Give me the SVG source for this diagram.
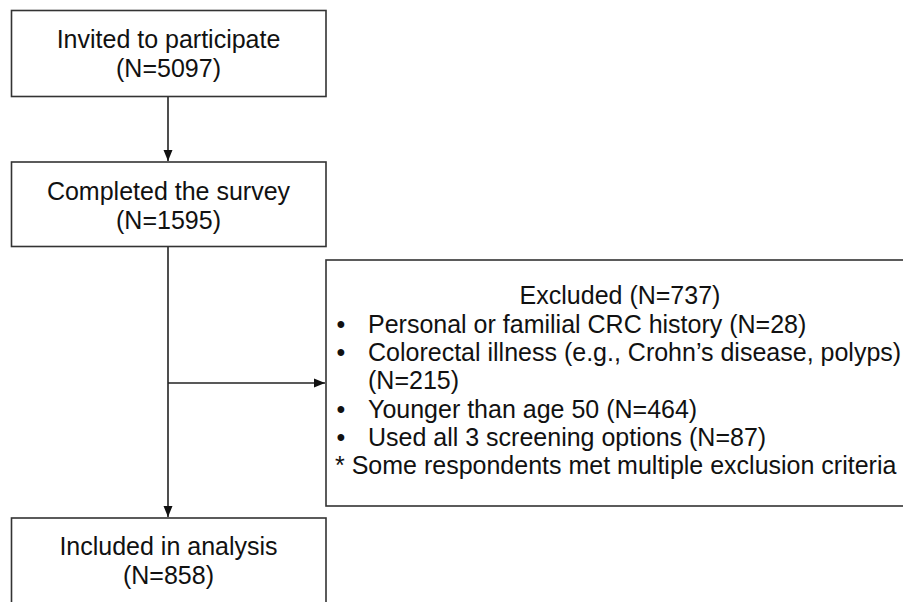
<svg xmlns="http://www.w3.org/2000/svg" width="903" height="602" viewBox="0 0 903 602">
<defs>
<style>
.box{fill:#fff;stroke:#333;stroke-width:1.6}
.t{font-family:"Liberation Sans",Arial,sans-serif;font-size:25px;fill:#111}
.c{text-anchor:middle}
.ln{stroke:#222;stroke-width:1.6;fill:none}
</style>
<marker id="ah" markerWidth="12" markerHeight="12" viewBox="0 0 12 12" refX="11" refY="6" orient="auto" markerUnits="userSpaceOnUse">
<path d="M0,1.5 L11,6 L0,10.5 Z" fill="#111"/>
</marker>
</defs>
<rect width="903" height="602" fill="#fff"/>
<g id="connectors">
<line class="ln" x1="168" y1="97" x2="168" y2="161" marker-end="url(#ah)"/>
<line class="ln" x1="168" y1="247" x2="168" y2="517" marker-end="url(#ah)"/>
<line class="ln" x1="168" y1="383" x2="325" y2="383" marker-end="url(#ah)"/>
</g>
<g id="invited">
<rect class="box" x="11.5" y="10.5" width="314.5" height="86"/>
<text class="t c" x="168.5" y="47.5">Invited to participate</text>
<text class="t c" x="168.5" y="77">(N=5097)</text>
</g>
<g id="completed">
<rect class="box" x="11.5" y="162" width="314.5" height="84.5"/>
<text class="t c" x="168.5" y="200">Completed the survey</text>
<text class="t c" x="168.5" y="229">(N=1595)</text>
</g>
<g id="excluded">
<rect class="box" x="326" y="260" width="600" height="246"/>
<text class="t c" x="620" y="304">Excluded (N=737)</text>
<text class="t" x="336.5" y="333">•</text>
<text class="t" x="368" y="333">Personal or familial CRC history (N=28)</text>
<text class="t" x="336.5" y="361">•</text>
<text class="t" x="368" y="361">Colorectal illness (e.g., Crohn’s disease, polyps)</text>
<text class="t" x="368" y="389">(N=215)</text>
<text class="t" x="336.5" y="418">•</text>
<text class="t" x="368" y="418">Younger than age 50 (N=464)</text>
<text class="t" x="336.5" y="446">•</text>
<text class="t" x="368" y="446">Used all 3 screening options (N=87)</text>
<text class="t" x="335" y="474">* Some respondents met multiple exclusion criteria</text>
</g>
<g id="included">
<rect class="box" x="11.5" y="518" width="314.5" height="100"/>
<text class="t c" x="168.5" y="555">Included in analysis</text>
<text class="t c" x="168.5" y="584">(N=858)</text>
</g>
</svg>
